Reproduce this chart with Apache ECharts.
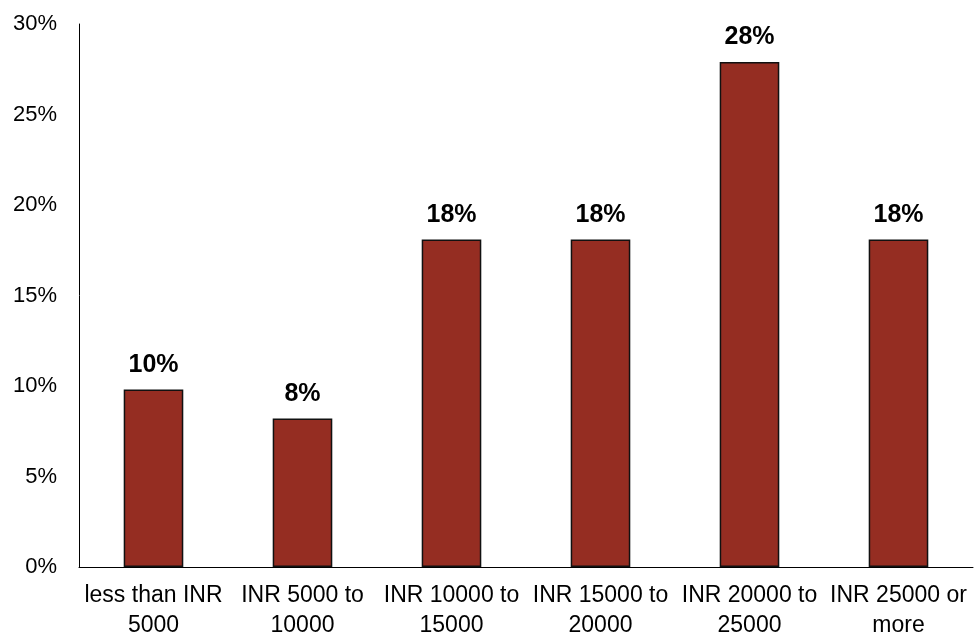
<!DOCTYPE html>
<html><head><meta charset="utf-8">
<script src="https://cdn.jsdelivr.net/npm/echarts@6/dist/echarts.min.js"></script>
<style>html,body{margin:0;padding:0;background:#fff}#c{width:979px;height:636px}</style>
</head><body><div id="c"></div>
<script>
const categories = ["less than INR\n5000","INR 5000 to\n10000","INR 10000 to\n15000","INR 15000 to\n20000","INR 20000 to\n25000","INR 25000 or\nmore"];
const values = [9.8, 8.2, 18.1, 18.1, 27.9, 18.1];
const yTicks = [0, 5, 10, 15, 20, 25, 30];

const chart = echarts.init(document.getElementById('c'), null, {renderer:'canvas'});
chart.setOption({
  animation:false,
  textStyle:{fontFamily:'Liberation Sans, Arial, sans-serif'},
  grid:{left:79, right:6, top:24, bottom:69, containLabel:false, outerBoundsMode:'none'},
  xAxis:{type:'category', data:categories,
    axisLine:{lineStyle:{color:'#000', width:1}},
    axisTick:{show:false},
    axisLabel:{color:'#000', fontSize:23, lineHeight:30, margin:14, interval:0}},
  yAxis:{type:'value', min:yTicks[0], max:yTicks[yTicks.length-1], interval:5,
    axisLine:{show:true, lineStyle:{color:'#000', width:1}},
    axisTick:{show:false}, splitLine:{show:false},
    axisLabel:{color:'#000', fontSize:22, margin:22, formatter:v=>v+'%'}},
  series:[{type:'bar', data:values, barWidth:'40%',
    itemStyle:{color:'#952D22', borderColor:'#111', borderWidth:1.5},
    label:{show:true, position:'top', distance:12, color:'#000', fontSize:25, fontWeight:'bold',
      formatter:p=>Math.round(p.value)+'%'}}]
});
</script></body></html>
